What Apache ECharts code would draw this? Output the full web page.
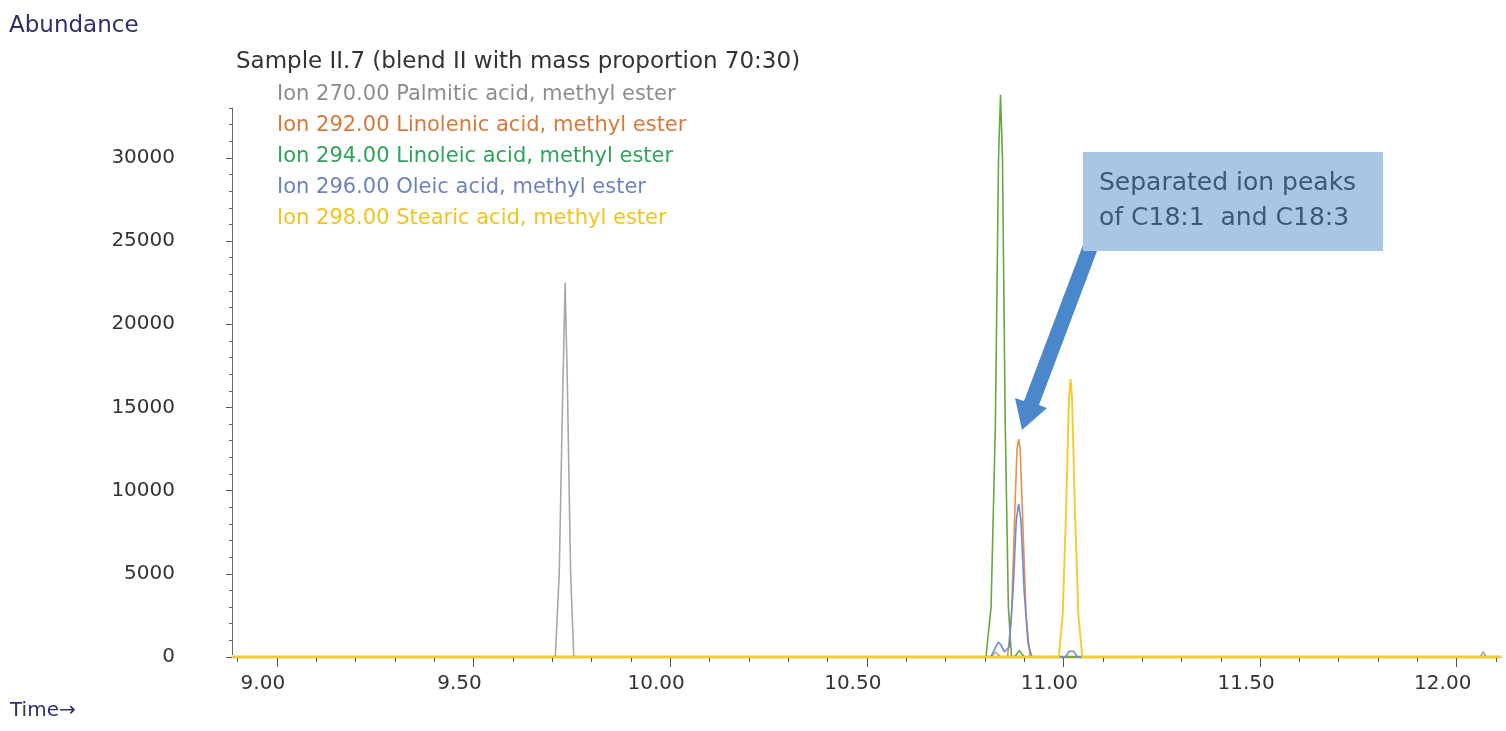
<!DOCTYPE html>
<html>
<head>
<meta charset="utf-8">
<script src="https://cdn.jsdelivr.net/npm/echarts@6/dist/echarts.min.js"></script>
<style>
  html, body { margin: 0; padding: 0; background: #fff; }
  #main { width: 1506px; height: 731px; }
</style>
</head>
<body>
<div id="main"></div>
<script>
// ion traces: [time (min), abundance]
const palmitic = [
  [8.89, 0], [9.708, 0], [9.718, 5000], [9.727, 16000], [9.733, 22500],
  [9.739, 16000], [9.747, 5000], [9.755, 0], [10.815, 0], [10.828, 300],
  [10.84, 0], [12.06, 0], [12.067, 300], [12.075, 0], [12.11, 0]
];
const linolenic = [
  [8.89, 0], [10.858, 0], [10.868, 2500], [10.876, 8500], [10.882, 12500],
  [10.886, 13100], [10.89, 12500], [10.896, 8500], [10.905, 2500], [10.915, 0], [12.11, 0]
];
const linoleic = [
  [8.89, 0], [10.803, 0], [10.816, 3000], [10.827, 14000], [10.835, 30000],
  [10.84, 33800], [10.845, 30000], [10.852, 14000], [10.86, 3000], [10.868, 0],
  [10.876, 0], [10.888, 400], [10.9, 0], [12.11, 0]
];
const oleic = [
  [8.89, 0], [10.815, 0], [10.826, 500], [10.834, 900], [10.842, 700],
  [10.85, 300], [10.862, 600], [10.872, 4000], [10.88, 8200], [10.886, 9200],
  [10.892, 8200], [10.9, 4000], [10.91, 800], [10.92, 0], [11.005, 0],
  [11.015, 350], [11.02, 450], [11.026, 350], [11.035, 0], [12.11, 0]
];
const stearic = [
  [8.89, 0], [10.988, 0], [10.998, 2500], [11.007, 9000], [11.014, 15500],
  [11.018, 16700], [11.022, 15500], [11.029, 9000], [11.038, 2500], [11.048, 0], [12.11, 0]
];

const seriesNames = [
  "Ion 270.00 Palmitic acid, methyl ester",
  "Ion 292.00 Linolenic acid, methyl ester",
  "Ion 294.00 Linoleic acid, methyl ester",
  "Ion 296.00 Oleic acid, methyl ester",
  "Ion 298.00 Stearic acid, methyl ester"
];
const lineColors = ["#a8a8a8", "#e8904c", "#62aa3e", "#7389d2", "#f3cc34"];
const textColors = ["#8c8c8c", "#d6793c", "#2fa35c", "#6d82c2", "#f0c41e"];

const xMajorTicks = [9.0, 9.5, 10.0, 10.5, 11.0, 11.5, 12.0];
const xMinorTicks = [8.9, 9.0, 9.1, 9.2, 9.3, 9.4, 9.5, 9.6, 9.7, 9.8, 9.9, 10.0,
  10.1, 10.2, 10.3, 10.4, 10.5, 10.6, 10.7, 10.8, 10.9, 11.0, 11.1, 11.2,
  11.3, 11.4, 11.5, 11.6, 11.7, 11.8, 11.9, 12.0, 12.1];
const yMajorTicks = [0, 5000, 10000, 15000, 20000, 25000, 30000];
const yMinorTicks = [0, 1000, 2000, 3000, 4000, 5000, 6000, 7000, 8000, 9000, 10000,
  11000, 12000, 13000, 14000, 15000, 16000, 17000, 18000, 19000, 20000, 21000,
  22000, 23000, 24000, 25000, 26000, 27000, 28000, 29000, 30000, 31000, 32000, 33000];

const traces = [palmitic, linolenic, linoleic, oleic, stearic];

const font = "DejaVu Sans";
const chart = echarts.init(document.getElementById("main"));

const xRange = { min: 8.886, max: 12.11 };
const yRange = { min: 0, max: 33000 };

const option = {
  animation: false,
  backgroundColor: "#fff",
  textStyle: { fontFamily: font },
  title: {
    text: "Sample II.7 (blend II with mass proportion 70:30)",
    left: 231,
    top: 46,
    textStyle: { fontFamily: font, fontSize: 23, fontWeight: "normal", color: "#333" }
  },
  legend: {
    orient: "vertical",
    left: 267,
    top: 74,
    selectedMode: false,
    icon: "none",
    itemWidth: 0,
    itemHeight: 10,
    itemGap: 0,
    data: seriesNames.map((n, i) => ({
      name: n,
      textStyle: { color: textColors[i] }
    })),
    textStyle: { fontFamily: font, fontSize: 21, lineHeight: 31 }
  },
  grid: { left: 232, right: 6, top: 108, bottom: 74 },
  xAxis: [
    {
      type: "value",
      min: xRange.min,
      max: xRange.max,
      axisLine: { lineStyle: { color: "#efe3a0", width: 4 } },
      axisTick: {
        customValues: xMajorTicks,
        length: 10,
        lineStyle: { color: "#555" }
      },
      axisLabel: {
        customValues: xMajorTicks,
        formatter: v => v.toFixed(2),
        fontFamily: font,
        fontSize: 20,
        color: "#333",
        margin: 17,
        padding: [0, 28, 0, 0]
      },
      splitLine: { show: false }
    },
    {
      type: "value",
      min: xRange.min,
      max: xRange.max,
      position: "bottom",
      axisLine: { show: false },
      axisTick: {
        customValues: xMinorTicks,
        length: 5,
        lineStyle: { color: "#555" }
      },
      axisLabel: { show: false },
      splitLine: { show: false }
    }
  ],
  yAxis: [
    {
      type: "value",
      min: yRange.min,
      max: yRange.max,
      axisLine: { show: true, lineStyle: { color: "#666", width: 1 } },
      axisTick: {
        customValues: yMajorTicks,
        length: 6,
        lineStyle: { color: "#555" }
      },
      axisLabel: {
        customValues: yMajorTicks,
        formatter: v => String(v),
        fontFamily: font,
        fontSize: 20,
        color: "#333",
        margin: 57
      },
      splitLine: { show: false }
    },
    {
      type: "value",
      min: yRange.min,
      max: yRange.max,
      position: "left",
      axisLine: { show: false },
      axisTick: {
        show: true,
        customValues: yMinorTicks,
        length: 3,
        lineStyle: { color: "#666" }
      },
      axisLabel: { show: false },
      splitLine: { show: false }
    }
  ],
  series: traces.map((d, i) => ({
    name: seriesNames[i],
    type: "line",
    data: d,
    xAxisIndex: 0,
    yAxisIndex: 0,
    symbol: "none",
    clip: false,
    color: lineColors[i],
    lineStyle: { color: lineColors[i], width: i === 4 ? 2 : 1.6 },
    z: 2 + i
  })),
  graphic: [
    {
      type: "text",
      left: 9,
      top: 15,
      style: { text: "Abundance", font: "23px DejaVu Sans", fill: "#2f2f6a" }
    },
    {
      type: "text",
      left: 10,
      top: 701,
      style: { text: "Time\u2192", font: "20px DejaVu Sans", fill: "#2f2f6a" }
    },
    {
      type: "polygon",
      shape: {
        points: [
          [1097, 251], [1039, 405], [1047, 408], [1022, 430],
          [1015, 398], [1024, 401], [1083, 245]
        ]
      },
      style: { fill: "#4a87cb" },
      z: 20
    },
    {
      type: "rect",
      shape: { x: 1083, y: 152, width: 300, height: 99 },
      style: { fill: "#a9c6e6" },
      z: 21
    },
    {
      type: "text",
      x: 1099,
      y: 166,
      style: {
        text: "Separated ion peaks\nof C18:1  and C18:3",
        font: "25px DejaVu Sans",
        lineHeight: 35,
        fill: "#3d5878"
      },
      z: 22
    }
  ]
};

chart.setOption(option);
</script>
</body>
</html>
